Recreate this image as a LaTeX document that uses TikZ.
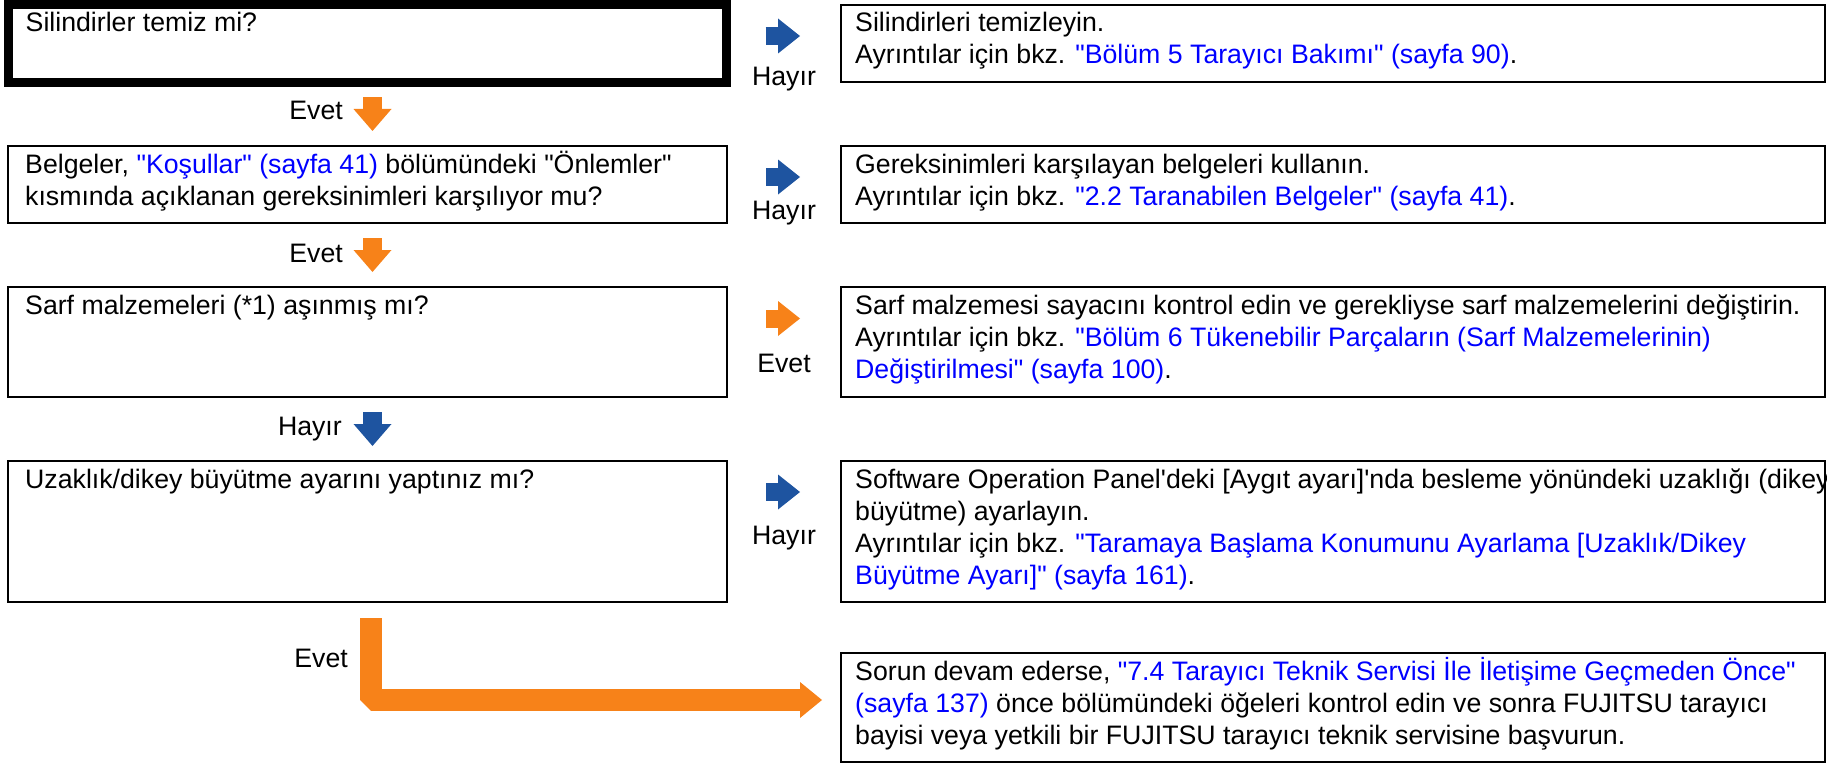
\documentclass[tikz,border=0pt]{standalone}
\usepackage{fontspec}
\newfontfamily\arialf{Liberation Sans}
\usetikzlibrary{positioning,arrows.meta}
\definecolor{fjblue}{RGB}{30,84,160}
\definecolor{fjorange}{RGB}{247,130,25}
\definecolor{linkblue}{RGB}{0,0,255}
\newcommand{\lnk}[1]{\textcolor{linkblue}{#1}}

\tikzset{
  box/.style={draw, line width=2.5pt, inner sep=0pt, outer sep=0pt, anchor=north west},
  % base anchor of a multi-line node = baseline of its last line
  txt/.style={anchor=base west, align=left, inner sep=0pt, font=\arialf\fontsize{26.7}{32}\selectfont},
  lbl/.style={inner sep=0pt, font=\arialf\fontsize{26.7}{32}\selectfont},
  rarr/.style={line width=18pt, -{Triangle[width=35pt, length=22pt, line width=0pt]}, shorten <=39pt, shorten >=41pt},
  darr/.style={line width=19pt, -{Triangle[width=38pt, length=22pt, line width=0pt]}, shorten <=15pt, shorten >=15pt},
  larr/.style={line width=22pt, line join=bevel, fjorange, -{Triangle[width=36pt, length=22pt, line width=0pt]}, shorten <=16pt, shorten >=19pt}
}

\begin{document}
\begin{tikzpicture}[x=1pt, y=-1pt]
  \useasboundingbox (0,0) rectangle (1827,765);
  % question boxes (left)
  \node[box, line width=9pt, minimum width=718pt, minimum height=78pt] (q1) at (8.5,4.5) {};
  \node[box, minimum width=719pt, minimum height=77pt] (q2) at (8,146) {};
  \node[box, minimum width=719pt, minimum height=110pt] (q3) at (8,287) {};
  \node[box, minimum width=719pt, minimum height=141pt] (q4) at (8,461) {};
  % answer boxes (right)
  \node[box, minimum width=984pt, minimum height=77pt] (a1) at (841,5) {};
  \node[box, minimum width=984pt, minimum height=77pt] (a2) at (841,146) {};
  \node[box, minimum width=984pt, minimum height=110pt] (a3) at (841,287) {};
  \node[box, minimum width=984pt, minimum height=141pt] (a4) at (841,461) {};
  \node[box, minimum width=984pt, minimum height=109pt] (a5) at (841,653) {};

  % texts
  \node[txt] (q1t) at ([shift={(17pt,-27.5pt)}]q1.north west) {Silindirler temiz mi?};
  \node[txt] (q2t) at ([shift={(17pt,-59pt)}]q2.north west) {Belgeler, \lnk{"Koşullar" (sayfa 41)} bölümündeki "Önlemler"\\kısmında açıklanan gereksinimleri karşılıyor mu?};
  \node[txt] (q3t) at ([shift={(17pt,-27pt)}]q3.north west) {Sarf malzemeleri (*1) aşınmış mı?};
  \node[txt] (q4t) at ([shift={(17pt,-27pt)}]q4.north west) {Uzaklık/dikey büyütme ayarını yaptınız mı?};
  \node[txt] (a1t) at ([shift={(14pt,-59pt)}]a1.north west) {Silindirleri temizleyin.\\Ayrıntılar için bkz. \lnk{"Bölüm 5 Tarayıcı Bakımı" (sayfa 90)}.};
  \node[txt] (a2t) at ([shift={(14pt,-59pt)}]a2.north west) {Gereksinimleri karşılayan belgeleri kullanın.\\Ayrıntılar için bkz. \lnk{"2.2 Taranabilen Belgeler" (sayfa 41)}.};
  \node[txt] (a3t) at ([shift={(14pt,-91pt)}]a3.north west) {Sarf malzemesi sayacını kontrol edin ve gerekliyse sarf malzemelerini değiştirin.\\Ayrıntılar için bkz. \lnk{"Bölüm 6 Tükenebilir Parçaların (Sarf Malzemelerinin)}\\\lnk{Değiştirilmesi" (sayfa 100)}.};
  \node[txt] (a4t) at ([shift={(14pt,-123pt)}]a4.north west) {Software Operation Panel'deki [Aygıt ayarı]'nda besleme yönündeki uzaklığı (dikey\\büyütme) ayarlayın.\\Ayrıntılar için bkz. \lnk{"Taramaya Başlama Konumunu Ayarlama [Uzaklık/Dikey}\\\lnk{Büyütme Ayarı]" (sayfa 161)}.};
  \node[txt] (a5t) at ([shift={(14pt,-91pt)}]a5.north west) {Sorun devam ederse, \lnk{"7.4 Tarayıcı Teknik Servisi İle İletişime Geçmeden Önce"}\\\lnk{(sayfa 137)} önce bölümündeki öğeleri kontrol edin ve sonra FUJITSU tarayıcı\\bayisi veya yetkili bir FUJITSU tarayıcı teknik servisine başvurun.};

  % arrows to the right
  \draw[rarr, fjblue] ([yshift=-31.5pt]q1.north east) -- ([yshift=-31.5pt]q1.north east -| a1.west);
  \draw[rarr, fjblue] ([yshift=-31pt]q2.north east) -- ([yshift=-31pt]q2.north east -| a2.west);
  \draw[rarr, fjorange] ([yshift=-31.5pt]q3.north east) -- ([yshift=-31.5pt]q3.north east -| a3.west);
  \draw[rarr, fjblue] ([yshift=-31pt]q4.north east) -- ([yshift=-31pt]q4.north east -| a4.west);
  \node[lbl, anchor=base] (h1) at (784,86) {Hayır};
  \node[lbl, anchor=base] (h2) at (784,219) {Hayır};
  \node[lbl, anchor=base] (e3) at (784,372) {Evet};
  \node[lbl, anchor=base] (h4) at (784,544) {Hayır};

  % arrows down
  \draw[darr, fjorange] ([xshift=5pt]q1.south) -- ([xshift=5pt]q2.north);
  \draw[darr, fjorange] ([xshift=5pt]q2.south) -- ([xshift=5pt]q3.north);
  \draw[darr, fjblue] ([xshift=5pt]q3.south) -- ([xshift=5pt]q4.north);
  \draw[larr] ([xshift=3pt]q4.south) |- ([yshift=7.5pt]a5.west);
  \node[lbl, anchor=base east] (e1) at (343,120) {Evet};
  \node[lbl, anchor=base east] (e2) at (343,262) {Evet};
  \node[lbl, anchor=base east] (h3) at (342,435) {Hayır};
  \node[lbl, anchor=base east] (e4) at (348,667) {Evet};
\end{tikzpicture}
\end{document}
